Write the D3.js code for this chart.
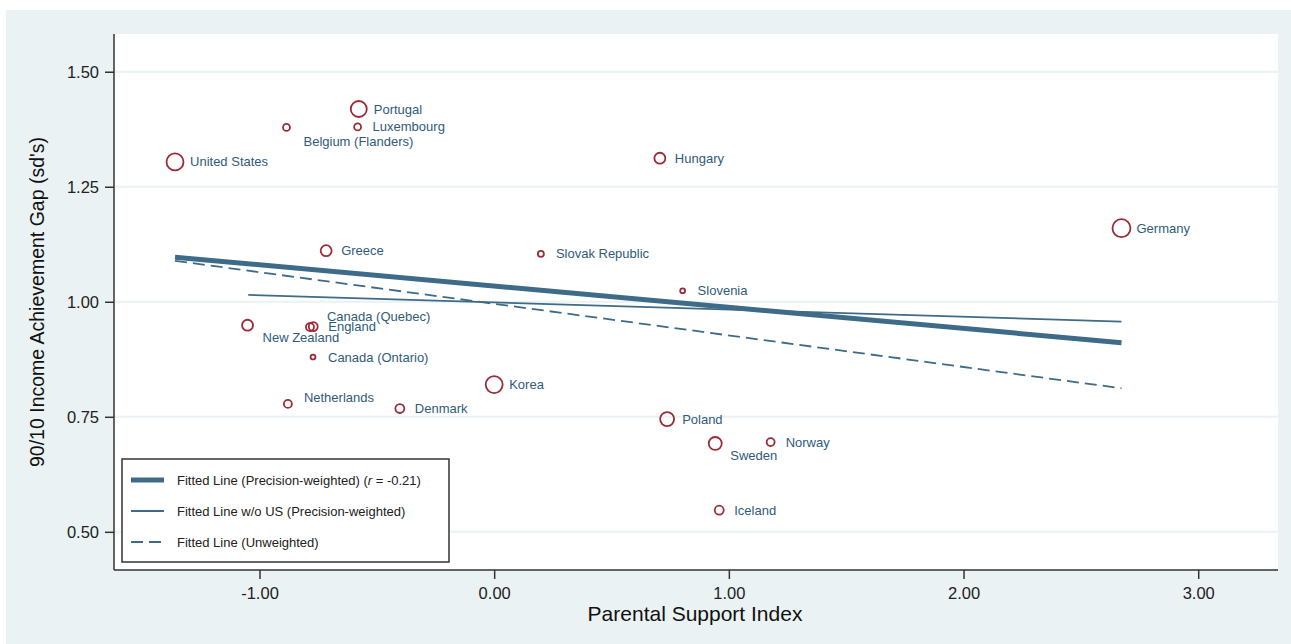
<!DOCTYPE html>
<html>
<head>
<meta charset="utf-8">
<script src="https://cdnjs.cloudflare.com/ajax/libs/d3/7.8.5/d3.min.js"></script>
<style>
  body { margin: 0; background: #fff; }
  text { font-family: "Liberation Sans", Arial, Helvetica, sans-serif; }
</style>
</head>
<body>
<div id="chart"></div>
<script>
// country data
var countries = ["United States", "Portugal", "Luxembourg", "Belgium (Flanders)", "Hungary",
                 "Germany", "Greece", "Slovak Republic", "Slovenia", "New Zealand",
                 "Canada (Quebec)", "England", "Canada (Ontario)", "Korea", "Netherlands",
                 "Denmark", "Poland", "Sweden", "Norway", "Iceland"];
var support = [-1.360, -0.577, -0.582, -0.885, 0.706,
               2.673, -0.716, 0.199, 0.803, -1.051,
               -0.785, -0.771, -0.772, 0.000, -0.879,
               -0.402, 0.737, 0.942, 1.178, 0.959];
var gap = [1.304, 1.419, 1.380, 1.379, 1.312,
           1.160, 1.111, 1.104, 1.024, 0.949,
           0.945, 0.946, 0.880, 0.820, 0.778,
           0.768, 0.745, 0.692, 0.695, 0.547];
// precision weights (marker area)
var weights = [72, 64, 12, 12, 30,
               81, 30, 9, 6, 30,
               16, 20, 6, 72, 16,
               20, 49, 42, 16, 20];

// fitted lines: [x, y] end points
var fitWeighted = [[-1.360, 1.097], [2.673, 0.911]];
var fitNoUS = [[-1.048, 1.015], [2.673, 0.957]];
var fitUnweighted = [[-1.360, 1.089], [2.673, 0.812]];

var xTicks = [-1, 0, 1, 2, 3];
var yTicks = [0.5, 0.75, 1.0, 1.25, 1.5];

// label placement (dx, dy from the marker centre), default is to the right
var labelOffset = {
  "Belgium (Flanders)": [17, 14],
  "New Zealand": [15, 12],
  "Sweden": [15, 12],
  "Canada (Quebec)": [17, -11],
  "Netherlands": [16, -6]
};

var W = 1291, H = 644;
var margin = {top: 34, right: 13, bottom: 74, left: 114},
    width = W - margin.left - margin.right,
    height = H - margin.top - margin.bottom;

var lineColor = "#3d6b88", markColor = "#9b2c37", labelColor = "#2f5b7c", bg = "#eaf2f3";
var fmt = function(d) { return d3.format(".2f")(d).replace("\u2212", "-"); };

var svg = d3.select("#chart").append("svg")
  .attr("width", W)
  .attr("height", H);

// outer graph region
svg.append("rect")
  .attr("x", 6).attr("y", 10)
  .attr("width", W - 6).attr("height", H - 10)
  .attr("fill", bg);

var g = svg.append("g")
  .attr("transform", "translate(" + margin.left + "," + margin.top + ")");

g.append("rect")
  .attr("width", width).attr("height", height)
  .attr("fill", "#fff");

var x = d3.scaleLinear().domain([-1.62, 3.34]).range([0, width]);
var y = d3.scaleLinear().domain([0.417, 1.582]).range([height, 0]);
var r = d3.scaleSqrt().domain([0, d3.max(weights)]).range([0, 9]);

// grid lines
g.selectAll(".grid")
  .data(yTicks)
  .enter()
  .append("line")
    .attr("x1", 0).attr("x2", width)
    .attr("y1", function(d) { return y(d); })
    .attr("y2", function(d) { return y(d); })
    .attr("stroke", bg)
    .attr("stroke-width", 2);

// fitted lines
var line = d3.line()
  .x(function(d) { return x(d[0]); })
  .y(function(d) { return y(d[1]); });

g.append("path").datum(fitWeighted)
  .attr("d", line).attr("fill", "none")
  .attr("stroke", lineColor).attr("stroke-width", 5);
g.append("path").datum(fitNoUS)
  .attr("d", line).attr("fill", "none")
  .attr("stroke", lineColor).attr("stroke-width", 1.8);
g.append("path").datum(fitUnweighted)
  .attr("d", line).attr("fill", "none")
  .attr("stroke", lineColor).attr("stroke-width", 1.8)
  .attr("stroke-dasharray", "12,6");

// markers
var pts = countries.map(function(c, i) {
  return {name: c, x: support[i], y: gap[i], w: weights[i]};
});

g.selectAll(".pt")
  .data(pts)
  .enter()
  .append("circle")
    .attr("cx", function(d) { return x(d.x); })
    .attr("cy", function(d) { return y(d.y); })
    .attr("r", function(d) { return r(d.w); })
    .attr("fill", "none")
    .attr("stroke", markColor)
    .attr("stroke-width", 1.8);

g.selectAll(".lbl")
  .data(pts)
  .enter()
  .append("text")
    .attr("x", function(d) { return x(d.x) + (labelOffset[d.name] || [15, 0])[0]; })
    .attr("y", function(d) { return y(d.y) + (labelOffset[d.name] || [15, 0])[1]; })
    .attr("dy", "0.35em")
    .attr("fill", labelColor)
    .style("font-size", "13px")
    .text(function(d) { return d.name; });

// axes
var xAxis = g.append("g")
  .attr("transform", "translate(0," + height + ")")
  .call(d3.axisBottom(x).tickValues(xTicks).tickFormat(fmt).tickSize(9).tickPadding(8));
xAxis.select(".domain").attr("stroke", "#333").attr("stroke-width", 1.5).attr("d", "M0,0H" + width);
xAxis.selectAll(".tick line").attr("stroke", "#333").attr("stroke-width", 1.5);
xAxis.selectAll("text").style("font-size", "16.5px").attr("fill", "#222");

var yAxis = g.append("g")
  .call(d3.axisLeft(y).tickValues(yTicks).tickFormat(fmt).tickSize(9).tickPadding(6));
yAxis.select(".domain").attr("stroke", "#333").attr("stroke-width", 1.5).attr("d", "M0,0V" + height);
yAxis.selectAll(".tick line").attr("stroke", "#333").attr("stroke-width", 1.5);
yAxis.selectAll("text").style("font-size", "16.5px").attr("fill", "#222");

// axis titles
svg.append("text")
  .attr("x", 695).attr("y", 621)
  .attr("text-anchor", "middle")
  .attr("fill", "#111")
  .style("font-size", "21px")
  .text("Parental Support Index");

svg.append("text")
  .attr("transform", "translate(44,302) rotate(-90)")
  .attr("text-anchor", "middle")
  .attr("fill", "#111")
  .style("font-size", "19.5px")
  .text("90/10 Income Achievement Gap (sd's)");

// legend
var legend = svg.append("g").attr("transform", "translate(122,459)");
legend.append("rect")
  .attr("width", 327).attr("height", 103)
  .attr("fill", "#fff")
  .attr("stroke", "#333")
  .attr("stroke-width", 1.5);

var keys = [
  {label: "Fitted Line (Precision-weighted) (", sw: 5, dash: null, r: true},
  {label: "Fitted Line w/o US (Precision-weighted)", sw: 1.8, dash: null},
  {label: "Fitted Line (Unweighted)", sw: 1.8, dash: "12,6"}
];

var item = legend.selectAll(".key")
  .data(keys)
  .enter()
  .append("g")
    .attr("transform", function(d, i) { return "translate(0," + (21 + i * 31) + ")"; });

item.append("line")
  .attr("x1", 9).attr("x2", 42)
  .attr("stroke", lineColor)
  .attr("stroke-width", function(d) { return d.sw; })
  .attr("stroke-dasharray", function(d) { return d.dash; });

var lt = item.append("text")
  .attr("x", 55).attr("dy", "0.35em")
  .attr("fill", "#222")
  .style("font-size", "13px")
  .text(function(d) { return d.label; });

lt.filter(function(d) { return d.r; })
  .each(function() {
    var t = d3.select(this);
    t.append("tspan").style("font-style", "italic").text("r");
    t.append("tspan").text(" = -0.21)");
  });
</script>
</body>
</html>
